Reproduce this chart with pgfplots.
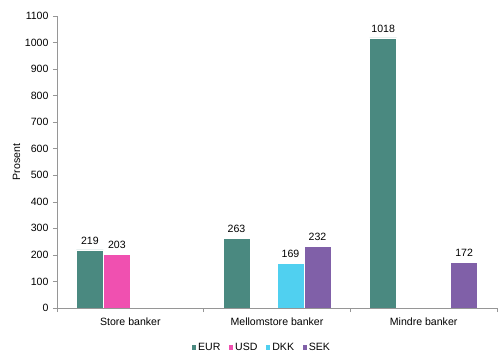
\documentclass[border=0pt]{standalone}
\usepackage{pgfplots}
\pgfplotsset{compat=1.18}
\usepackage{fontspec}
\setmainfont{Liberation Sans}
\definecolor{ceur}{RGB}{74,137,128}
\definecolor{cusd}{RGB}{240,80,176}
\definecolor{cdkk}{RGB}{80,208,240}
\definecolor{csek}{RGB}{128,96,168}
\definecolor{axgray}{RGB}{150,150,150}
\begin{document}
\begin{tikzpicture}
\begin{axis}[
  at={(57bp,51bp)}, anchor=south west,
  scale only axis, width=440bp, height=292bp,
  ybar=0pt, bar width=27bp,
  xmin=-0.5, xmax=2.5, ymin=0, ymax=1100,
  ytick={0,100,...,1100},
  xtick={0,1,2}, xticklabels={Store banker,Mellomstore banker,Mindre banker},
  minor xtick={-0.5,0.5,1.5,2.5},
  major x tick style={draw=none},
  tick align=outside, tick pos=left,
  major tick length=4bp, minor tick length=4bp,
  axis lines*=left,
  axis line style={axgray, line width=0.8pt},
  every tick/.style={axgray, line width=0.6pt},
  tick label style={font=\fontsize{10.6}{12}\selectfont},
  /pgf/number format/assume math mode=true,
  /pgf/number format/1000 sep={},
  yticklabel style={xshift=-1bp},
  xticklabel style={yshift=-2bp},
  ylabel={Prosent}, ylabel style={font=\fontsize{10.6}{12}\selectfont, yshift=-2bp},
  nodes near coords,
  every node near coord/.append style={font=\fontsize{10.6}{12}\selectfont, black, yshift=2bp},
  legend columns=4,
  legend style={at={(0.464,-0.134)}, anchor=center, draw=none, font=\fontsize{10.6}{12}\selectfont,
    nodes={inner xsep=1.5bp},
    /tikz/every even column/.append style={column sep=6bp}},
  legend image code/.code={\fill[#1] (0bp,-2.7bp) rectangle (5.4bp,2.7bp);},
]
\addplot[fill=ceur, draw=white, line width=0.4pt] coordinates {(0,219) (1,263) (2,1018)};
\addplot[fill=cusd, draw=white, line width=0.4pt] coordinates {(0,203)};
\addplot[fill=cdkk, draw=white, line width=0.4pt] coordinates {(1,169)};
\addplot[fill=csek, draw=white, line width=0.4pt] coordinates {(1,232) (2,172)};
\legend{EUR,USD,DKK,SEK}
\end{axis}
\pgfresetboundingbox
\path (0,0) rectangle (499bp,359bp);
\end{tikzpicture}
\end{document}
